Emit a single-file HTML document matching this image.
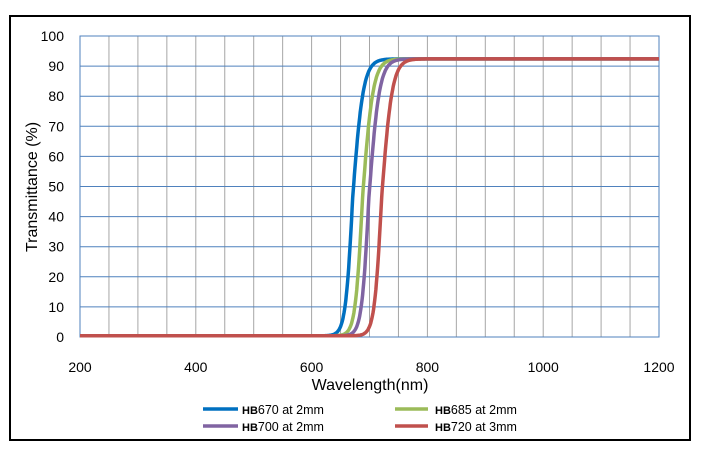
<!DOCTYPE html><html><head><style>body{margin:0;background:#fff}svg{display:block;font-family:"Liberation Sans",sans-serif}</style></head><body>
<svg id="s" width="705" height="455" xmlns="http://www.w3.org/2000/svg">
<rect x="10" y="16" width="680" height="424" fill="#fff" stroke="#000" stroke-width="2"/>
<g id="grid"></g>
<g id="curves" fill="none" stroke-width="3.5" stroke-linejoin="round"></g>
<g font-size="14" fill="#000" id="labels"></g>
<text x="370" y="390" font-size="16" text-anchor="middle">Wavelength(nm)</text>
<text transform="translate(37,187) rotate(-90)" font-size="16" text-anchor="middle">Transmittance (%)</text>
<g font-size="12.5">
<line x1="203" y1="409" x2="238" y2="409" stroke="#0070c0" stroke-width="3.5"/>
<text x="242" y="414"><tspan font-weight="bold" font-size="11">HB</tspan>670 at 2mm</text>
<line x1="395" y1="409" x2="428" y2="409" stroke="#9bbb59" stroke-width="3.5"/>
<text x="435" y="414"><tspan font-weight="bold" font-size="11">HB</tspan>685 at 2mm</text>
<line x1="203" y1="426" x2="238" y2="426" stroke="#8064a2" stroke-width="3.5"/>
<text x="242" y="431"><tspan font-weight="bold" font-size="11">HB</tspan>700 at 2mm</text>
<line x1="395" y1="426" x2="428" y2="426" stroke="#c0504d" stroke-width="3.5"/>
<text x="435" y="431"><tspan font-weight="bold" font-size="11">HB</tspan>720 at 3mm</text>
</g>
</svg>
<script>
var X0=80,X1=659,Y0=337,Y1=36;
function px(w){return X0+(w-200)*(X1-X0)/1000}function py(t){return Y0+(t)*(Y1-Y0)/100}
var g=document.getElementById("grid"),lb=document.getElementById("labels"),h="";
for(var i=0;i<=20;i++){var x=px(200+i*50);h+='<line x1="'+x+'" y1="'+Y1+'" x2="'+x+'" y2="'+Y0+'" stroke="#a6a6a6" stroke-width="1"/>';}
for(var j=0;j<=10;j++){var y=py(j*10);h+='<line x1="'+X0+'" y1="'+y+'" x2="'+X1+'" y2="'+y+'" stroke="#4f81bd" stroke-width="1"/>';}
h+='<rect x="'+X0+'" y="'+Y1+'" width="'+(X1-X0)+'" height="'+(Y0-Y1)+'" fill="none" stroke="#4f81bd"/>';
g.innerHTML=h;var l="";
for(var j=0;j<=10;j++)l+='<text x="64" y="'+(py(j*10)+5)+'" text-anchor="end">'+(j*10)+'</text>';
for(var i=0;i<=5;i++)l+='<text x="'+px(200+i*200)+'" y="372" text-anchor="middle">'+(200+i*200)+'</text>';
lb.innerHTML=l;
var cs=[["#0070c0",671],["#9bbb59",688],["#8064a2",699],["#c0504d",721]],c="";
cs.forEach(function(a,k){var d="";for(var w=200;w<=1200;w+=1){var z=w-a[1];var kk=z>0?0.11:0.16;var t=92/(1+Math.exp(-z*kk))+0.4;d+=(w==200?"M":"L")+px(w).toFixed(1)+","+py(t).toFixed(1);}
c+='<path d="'+d+'" stroke="'+a[0]+'"/>';});
document.getElementById("curves").innerHTML=c;
</script>
</body></html>
